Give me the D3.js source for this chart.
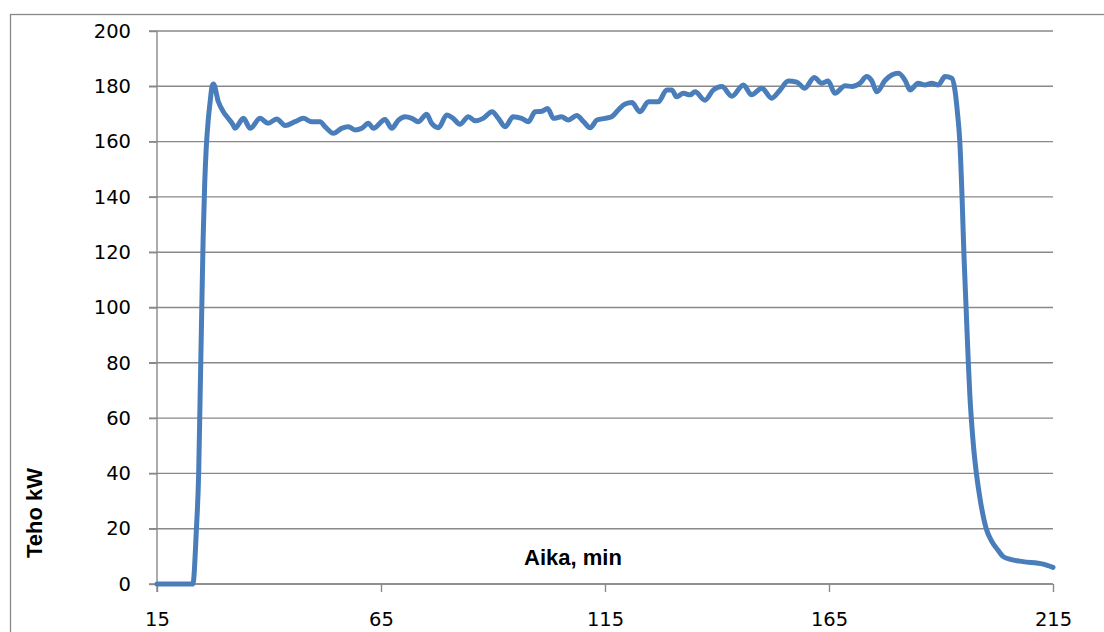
<!DOCTYPE html>
<html>
<head>
<meta charset="utf-8">
<script src="https://cdn.jsdelivr.net/npm/d3@7"></script>
<style>
  html, body { margin: 0; padding: 0; background: #fff; }
  svg { display: block; }
</style>
</head>
<body>
<svg id="chart" width="1104" height="632"></svg>
<script>
// Measured power during the test run
const minutes = [
  15, 21.5, 23.0, 23.8, 24.3, 24.65, 25.0, 25.3, 25.65, 26.0, 26.45, 26.9, 27.3, 27.6,
  28.7, 29.8, 30.9, 32.0, 32.4,
  34.3, 35.8, 38.0, 39.8, 41.7, 43.6, 45.8, 47.7, 49.5, 51.4, 52.5, 54.4, 56.2, 57.7,
  59.2, 60.7, 62.2, 63.3, 65.9, 67.4, 68.9, 70.4, 71.9, 73.3, 75.2, 76.3, 77.8, 79.7,
  81.1, 82.6, 84.5, 86.0, 87.8, 89.8, 91.2, 92.7, 94.5, 96.4, 97.9, 99.4, 100.9, 102.2,
  103.5, 105.3, 106.8, 108.7, 110.2, 111.7, 113.2, 115.0, 116.5, 118.0, 119.5, 121.0,
  122.8, 124.7, 126.9, 128.8, 129.9, 131.0, 132.5, 134.0, 135.1, 137.3, 139.2, 141.1,
  143.3, 145.9, 147.7, 150.0, 152.2, 154.1, 155.9, 157.8, 159.6, 161.7, 163.4, 164.8,
  166.3, 168.6, 170.1, 171.9, 173.4, 174.5, 175.7, 177.5, 179.0, 180.5, 182.0, 183.1,
  184.9, 186.4, 187.9, 189.4, 190.9, 192.4, 193.1, 193.7, 194.2, 194.7, 195.1, 195.6,
  196.1, 196.45, 196.85, 197.3, 197.9, 198.8, 200.1, 201.3, 202.7, 203.9, 205.5, 208.3, 212.8, 215
];
const power = [
  0, 0, 0, 20, 40, 70, 100, 125, 145, 158, 168, 175, 180, 180.8,
  174.4, 170.8, 168.4, 166, 164.8,
  168.4, 164.8, 168.4, 166.6, 168.2, 165.8, 167.2, 168.4, 167.2, 167.2, 165.4, 163, 164.8, 165.4,
  164.2, 164.8, 166.6, 164.8, 168, 164.8, 167.8, 169, 168.4, 167.2, 169.9, 166.6, 165, 169.6,
  168.4, 166.3, 169, 167.5, 168.4, 170.8, 168.4, 165.4, 169, 168.4, 167.2, 170.8, 171, 172,
  168.4, 169, 167.8, 169.4, 167.2, 165, 167.8, 168.4, 169, 171.5, 173.6, 174.1,
  170.8, 174.4, 174.4, 178.7, 178.7, 176.2, 177.5, 176.9, 178, 175, 178.7, 179.9,
  176.4, 180.5, 176.9, 179.3, 175.7, 178.7, 181.9, 181.5, 179.3, 183.2, 181.1, 181.9,
  177.5, 180.2, 179.9, 181.1, 183.5, 182.1, 178, 182.1, 184.1, 184.7, 182.1, 178.7,
  181.1, 180.5, 181.1, 180.5, 183.5, 182.9, 178.7, 170, 160, 140, 120, 100,
  80, 68, 58, 49, 40, 30, 20, 15.5, 12.3, 9.9, 8.9, 8.1, 7.2, 6.0
];

const yTicks = [0, 20, 40, 60, 80, 100, 120, 140, 160, 180, 200];
const xTicks = [15, 65, 115, 165, 215];

const xTitle = "Aika, min";
const yTitle = "Teho kW";

const svg = d3.select("#chart");
const gridColor = "#898989";
const lineColor = "#4a7ebb";

const plot = { left: 157, right: 1053, top: 31, bottom: 584 };

const x = d3.scaleLinear().domain([15, 215]).range([plot.left, plot.right]);
const y = d3.scaleLinear().domain([0, 200]).range([plot.bottom, plot.top]);

// Outer chart frame
svg.append("rect")
  .attr("x", 10.5).attr("y", 14.5)
  .attr("width", 1120).attr("height", 640)
  .attr("fill", "none")
  .attr("stroke", gridColor)
  .attr("stroke-width", 1.3);

// Horizontal gridlines
svg.append("g")
  .selectAll("line")
  .data(yTicks)
  .join("line")
  .attr("x1", plot.left - 8)
  .attr("x2", plot.right)
  .attr("y1", d => y(d))
  .attr("y2", d => y(d))
  .attr("stroke", gridColor)
  .attr("stroke-width", 1.4);

// Y axis
const yAxis = svg.append("g")
  .attr("transform", `translate(${plot.left},0)`)
  .call(d3.axisLeft(y).tickValues(yTicks).tickSize(8).tickPadding(18));
yAxis.select(".domain").attr("stroke", gridColor).attr("stroke-width", 1.4)
  .attr("d", `M0,${plot.top}V${plot.bottom + 8}`);
yAxis.selectAll(".tick line").attr("stroke", gridColor).attr("stroke-width", 1.4);
yAxis.selectAll(".tick text")
  .attr("font-family", "DejaVu Sans, sans-serif")
  .attr("font-size", 19.5)
  .attr("fill", "#000");

// X axis
const xAxis = svg.append("g")
  .attr("transform", `translate(0,${plot.bottom})`)
  .call(d3.axisBottom(x).tickValues(xTicks).tickSize(8).tickPadding(20).tickFormat(d3.format("d")));
xAxis.select(".domain").attr("stroke", gridColor).attr("stroke-width", 1.4)
  .attr("d", `M${plot.left},0H${plot.right}`);
xAxis.selectAll(".tick line").attr("stroke", gridColor).attr("stroke-width", 1.4);
xAxis.selectAll(".tick text")
  .attr("font-family", "DejaVu Sans, sans-serif")
  .attr("font-size", 19.5)
  .attr("fill", "#000");

// Power curve
const line = d3.line()
  .x((d, i) => x(minutes[i]))
  .y(d => y(d))
  .curve(d3.curveMonotoneX);

svg.append("path")
  .datum(power)
  .attr("d", line)
  .attr("fill", "none")
  .attr("stroke", lineColor)
  .attr("stroke-width", 5)
  .attr("stroke-linejoin", "round")
  .attr("stroke-linecap", "round");

// Axis titles
svg.append("text")
  .attr("x", 573).attr("y", 565)
  .attr("text-anchor", "middle")
  .attr("font-family", "Liberation Sans, Arial, sans-serif")
  .attr("font-weight", "bold")
  .attr("font-size", 22)
  .text(xTitle);

svg.append("text")
  .attr("transform", "translate(41.5,513) rotate(-90)")
  .attr("text-anchor", "middle")
  .attr("font-family", "Liberation Sans, Arial, sans-serif")
  .attr("font-weight", "bold")
  .attr("font-size", 22)
  .text(yTitle);
</script>
</body>
</html>
